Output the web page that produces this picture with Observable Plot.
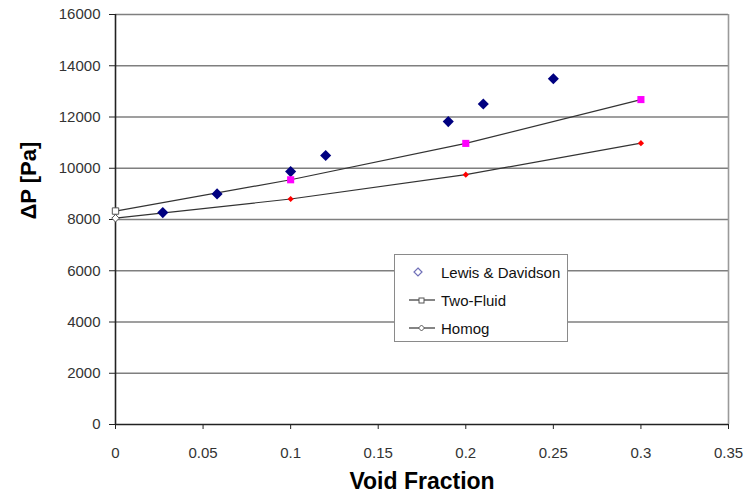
<!DOCTYPE html>
<html><head><meta charset="utf-8">
<script src="https://cdn.jsdelivr.net/npm/d3@7"></script>
<script src="https://cdn.jsdelivr.net/npm/@observablehq/plot@0.6"></script>
<style>
body{margin:0;background:#fff;font-family:"Liberation Sans",Arial,sans-serif;}
#wrap{position:relative;width:750px;height:501px;}
#legend{position:absolute;left:394px;top:254px;width:174px;height:88px;border:1px solid #8a8a8a;background:#fff;box-sizing:border-box;}
.entry{position:absolute;left:0;height:20px;width:172px;}
.entry svg{position:absolute;left:12px;top:0;}
.entry span{position:absolute;left:46px;top:1px;font-size:15px;color:#111;line-height:18px;white-space:nowrap;}
</style></head>
<body>
<div id="wrap"></div>
<script>
// Data
const xTicks = [0, 0.05, 0.1, 0.15, 0.2, 0.25, 0.3, 0.35];
const yTicks = [0, 2000, 4000, 6000, 8000, 10000, 12000, 14000, 16000];

const lewisX = [0.027, 0.058, 0.1, 0.12, 0.19, 0.21, 0.25];
const lewisY = [8270, 9000, 9870, 10500, 11820, 12510, 13490];

const modelX = [0, 0.1, 0.2, 0.3];
const twoFluidY = [8330, 9550, 10970, 12680];
const homogY = [8050, 8800, 9750, 10980];

const seriesNames = ["Lewis & Davidson", "Two-Fluid", "Homog"];

const lewis = lewisX.map((x, i) => ({x, y: lewisY[i]}));
const twoFluid = modelX.map((x, i) => ({x, y: twoFluidY[i]}));
const homog = modelX.map((x, i) => ({x, y: homogY[i]}));

const font = '"Liberation Sans", Arial, sans-serif';

const chart = Plot.plot({
  width: 750,
  height: 501,
  marginLeft: 115,
  marginRight: 22,
  marginTop: 14,
  marginBottom: 77,
  x: {domain: [0, 0.35], label: null},
  y: {domain: [0, 16000], label: null},
  style: {fontFamily: font, fontSize: "15px", color: "#333", background: "#fff", overflow: "visible"},
  marks: [
    Plot.ruleY(yTicks.filter(d => d > 0), {stroke: "#7f7f7f", strokeWidth: 1.6}),
    Plot.ruleX([0.35], {stroke: "#9a9a9a", strokeWidth: 1.6}),
    Plot.axisY({ticks: yTicks, tickSize: 6, tickPadding: 9, tickFormat: d => String(d), fontSize: 15, stroke: "#222"}),
    Plot.axisX({ticks: xTicks, tickSize: 5, tickPadding: 18, tickFormat: d => String(d), fontSize: 15, stroke: "#222"}),
    Plot.ruleY([0], {stroke: "#222", strokeWidth: 1.6}),
    Plot.ruleX([0], {stroke: "#222", strokeWidth: 1.6}),
    Plot.line(twoFluid, {x: "x", y: "y", stroke: "#333", strokeWidth: 1.2}),
    Plot.line(homog, {x: "x", y: "y", stroke: "#333", strokeWidth: 1.2}),
    Plot.dot(lewis, {x: "x", y: "y", symbol: "diamond2", r: 5, fill: "#000080", stroke: "none"}),
    Plot.dot(twoFluid.slice(1), {x: "x", y: "y", symbol: "square", r: 4, fill: "#ff00ff", stroke: "none"}),
    Plot.dot(homog.slice(1), {x: "x", y: "y", symbol: "diamond2", r: 2.8, fill: "#ff0000", stroke: "none"}),
    Plot.dot(twoFluid.slice(0, 1), {x: "x", y: "y", symbol: "square", r: 3.6, fill: "#fff", stroke: "#555", strokeWidth: 1}),
    Plot.dot(homog.slice(0, 1), {x: "x", y: "y", symbol: "diamond2", r: 3.4, fill: "#fff", stroke: "#555", strokeWidth: 1}),
    Plot.text(["Void Fraction"], {text: d => d, frameAnchor: "bottom", dy: 64, fontSize: 23, fontWeight: "bold", fill: "#000"}),
    Plot.text(["\u0394P [Pa]"], {text: d => d, frameAnchor: "left", dx: -87, rotate: -90, fontSize: 22, fontWeight: "bold", fill: "#000"})
  ]
});

const wrap = document.getElementById("wrap");
wrap.appendChild(chart);

// Legend
const legend = document.createElement("div");
legend.id = "legend";
const icons = [
  '<svg width="30" height="20"><path d="M11,5 L15,9 L11,13 L7,9 Z" fill="#fff" stroke="#7070b8" stroke-width="1.2"/></svg>',
  '<svg width="30" height="20"><line x1="2" y1="9" x2="28" y2="9" stroke="#333" stroke-width="1.2"/><rect x="12" y="7" width="5" height="5" fill="#fff" stroke="#555"/></svg>',
  '<svg width="30" height="20"><line x1="2" y1="9" x2="28" y2="9" stroke="#333" stroke-width="1.2"/><path d="M14.5,6 L17.5,9 L14.5,12 L11.5,9 Z" fill="#fff" stroke="#555"/></svg>'
];
const tops = [8, 36, 64];
seriesNames.forEach((name, i) => {
  const e = document.createElement("div");
  e.className = "entry";
  e.style.top = tops[i] + "px";
  e.innerHTML = icons[i] + '<span>' + name.replace("&", "&amp;") + '</span>';
  legend.appendChild(e);
});
wrap.appendChild(legend);
</script>
</body></html>
